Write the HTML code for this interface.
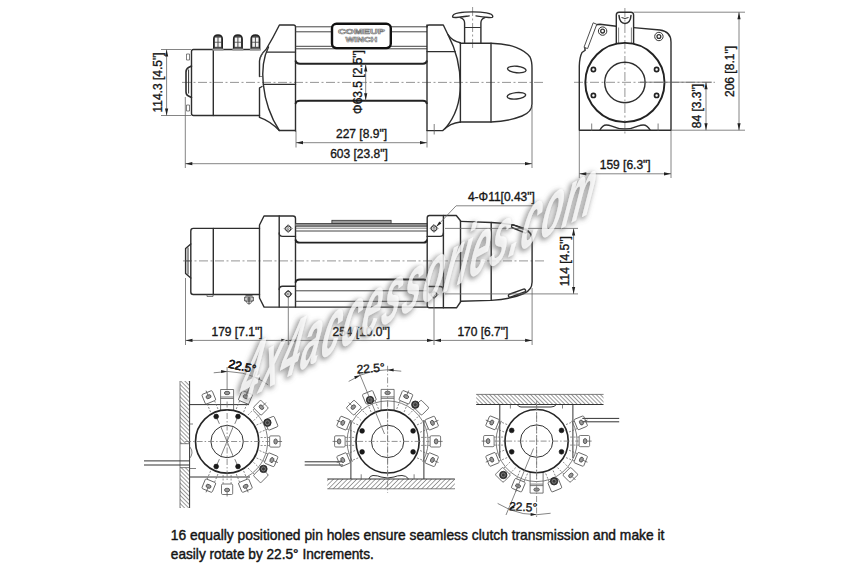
<!DOCTYPE html>
<html><head><meta charset="utf-8"><style>
html,body{margin:0;padding:0;background:#fff;}
svg{display:block;}
.o{fill:none;stroke:#2e2e2e;stroke-width:1.4;stroke-linejoin:round;stroke-linecap:round}
.o1{fill:none;stroke:#333;stroke-width:1;}
.o2{fill:none;stroke:#444;stroke-width:1;}
.o3{fill:none;stroke:#222;stroke-width:1.9;}
.t{fill:none;stroke:#555;stroke-width:0.75;}
.d{fill:none;stroke:#666;stroke-width:0.8;}
.dl{fill:none;stroke:#666;stroke-width:0.7;stroke-dasharray:2 1.5;}
.c{fill:none;stroke:#8a8a8a;stroke-width:0.9;stroke-dasharray:9 2.5 2 2.5;}
.c2{fill:none;stroke:#777;stroke-width:0.8;stroke-dasharray:6 2 1.5 2;}
.pin{fill:#999;stroke:#333;stroke-width:0.7;}
.hb{fill:none;stroke:#555;stroke-width:0.8;}
.blt{fill:#1a1a1a;stroke:#111;stroke-width:0.6;}
.tx{font-family:"Liberation Sans",sans-serif;fill:#161616;stroke:#161616;stroke-width:0.35;}
.logo{font-family:"Liberation Sans",sans-serif;font-weight:bold;fill:#fff;stroke:#777;stroke-width:0.6;}
.bt{font-family:"Liberation Sans",sans-serif;fill:#141414;stroke:#141414;stroke-width:0.45;}
.wmk{font-family:"Liberation Sans",sans-serif;font-weight:bold;font-style:italic;fill:#fff;fill-opacity:0.72;}
</style></head>
<body><svg width="860" height="570" viewBox="0 0 860 570">
<rect width="860" height="570" fill="#fff"/>
<line x1="182" y1="82.4" x2="545" y2="82.4" class="c" />
<line x1="472.6" y1="7" x2="472.6" y2="48" class="c" />
<path d="M193.5,49.5 L259.5,49.5 M191.5,51.5 Q191.5,49.5 193.5,49.5 M191.5,51.5 L191.5,113.5 Q191.5,115.5 193.5,115.5 L259.5,115.5" class="o" />
<line x1="213.3" y1="49.5" x2="213.3" y2="115.5" class="o" />
<path d="M191.5,66 L188.5,67.5 Q186,69 186,72 L186,92 Q186,95 188.5,96 L191.5,97.5" class="o" style="stroke-width:1.6"/>
<path d="M188.6,69.5 L188.6,93.5" class="o1" />
<path d="M186.5,54 h3 v6 h-3 z M186.5,105 h3 v6 h-3 z" class="t" />
<path d="M213.7,49 L213.7,39 Q213.7,35 218,35 Q222.3,35 222.3,39 L222.3,49" class="o" style="fill:#4a4a4a;stroke:#222"/>
<rect x="214.9" y="37.6" width="2.6" height="4.2" fill="#f4f4f4"/>
<rect x="218.5" y="37.6" width="2.6" height="4.2" fill="#f4f4f4"/>
<rect x="214.9" y="42.6" width="2.6" height="4.2" fill="#f4f4f4"/>
<rect x="218.5" y="42.6" width="2.6" height="4.2" fill="#f4f4f4"/>
<rect x="212.5" y="48.6" width="11" height="2" fill="#999"/>
<path d="M233.6,49 L233.6,39 Q233.6,35 237.9,35 Q242.2,35 242.2,39 L242.2,49" class="o" style="fill:#4a4a4a;stroke:#222"/>
<rect x="234.8" y="37.6" width="2.6" height="4.2" fill="#f4f4f4"/>
<rect x="238.4" y="37.6" width="2.6" height="4.2" fill="#f4f4f4"/>
<rect x="234.8" y="42.6" width="2.6" height="4.2" fill="#f4f4f4"/>
<rect x="238.4" y="42.6" width="2.6" height="4.2" fill="#f4f4f4"/>
<rect x="232.4" y="48.6" width="11" height="2" fill="#999"/>
<path d="M251.1,49 L251.1,39 Q251.1,35 255.4,35 Q259.7,35 259.7,39 L259.7,49" class="o" style="fill:#4a4a4a;stroke:#222"/>
<rect x="252.3" y="37.6" width="2.6" height="4.2" fill="#f4f4f4"/>
<rect x="255.9" y="37.6" width="2.6" height="4.2" fill="#f4f4f4"/>
<rect x="252.3" y="42.6" width="2.6" height="4.2" fill="#f4f4f4"/>
<rect x="255.9" y="42.6" width="2.6" height="4.2" fill="#f4f4f4"/>
<rect x="249.9" y="48.6" width="11" height="2" fill="#999"/>
<path d="M259.5,76.5 L259.5,61 Q260,55 266,49.5 Q273,38 279.4,25 L293.5,25 Q295.5,25 295.5,27 L295.5,131" class="o" />
<path d="M259.5,76.5 L262.3,76.5" class="t" />
<line x1="267" y1="52.1" x2="295.5" y2="52.1" class="o" />
<line x1="263.5" y1="84.4" x2="295.5" y2="84.4" class="o" />
<path d="M268.5,47 Q261,62 263.3,84.4 Q266,110 279.3,130.5" class="o" />
<path d="M260,58 Q262,52 268,48.5" class="t" />
<path d="M259.5,88 L262,86.5 M259.5,88 L259.5,117.4 Q270,121 279.3,130.5 L295.5,130.5" class="o" />
<line x1="295.5" y1="26.8" x2="332" y2="26.8" class="o2" />
<line x1="390.8" y1="26.8" x2="427" y2="26.8" class="o2" />
<line x1="295.5" y1="31.8" x2="332" y2="31.8" class="o2" />
<line x1="390.8" y1="31.8" x2="427" y2="31.8" class="o2" />
<line x1="295.5" y1="46.3" x2="427" y2="46.3" class="o2" />
<line x1="295.5" y1="48.8" x2="427" y2="48.8" class="o2" />
<rect x="332" y="23.7" width="58.8" height="24.4" rx="4.5" fill="#fff" stroke="#111" stroke-width="2.4"/>
<text x="361.4" y="34.3" font-size="7.2" text-anchor="middle" class="logo" textLength="47" lengthAdjust="spacingAndGlyphs">COMEUP</text>
<text x="361.4" y="42.3" font-size="7.2" text-anchor="middle" class="logo" textLength="32" lengthAdjust="spacingAndGlyphs">WINCH</text>
<path d="M295.5,60.5 Q296,63.7 300,63.7 L423,63.7 Q426.5,63.7 427,60.5" class="o3" />
<path d="M295.5,104 Q296,100.8 300,100.8 L423,100.8 Q426.5,100.8 427,104" class="o3" />
<path d="M427,27 Q427,25 429,25 L443.3,25 L448,34.7 Q452.5,41.5 460.4,42.8" class="o" />
<line x1="427" y1="25" x2="427" y2="130.6" class="o" />
<line x1="427" y1="51.6" x2="455.2" y2="51.6" class="o" />
<path d="M448,34.7 C455,48 460.3,65 460.3,85 C460.3,103 455,117 445.3,128.4" class="o" />
<path d="M427,130.6 L442.8,130.6 Q450,123 460.4,122" class="o" />
<line x1="434.2" y1="124" x2="434.2" y2="134.5" class="t" />
<line x1="460.4" y1="43.2" x2="460.4" y2="122" class="o" />
<line x1="491" y1="43.2" x2="491" y2="122" class="o" />
<path d="M460.4,43.2 L491,43.2 C512,43.5 525,50 530,57 Q532,61 532,68 L532,104 Q532,112 522,116 Q508,121.5 491,122 L460.4,122" class="o" />
<ellipse cx="516.8" cy="69.5" rx="9.3" ry="3.2" transform="rotate(6 516.8 69.5)" class="o"/>
<ellipse cx="516.4" cy="95.8" rx="9.3" ry="3.2" transform="rotate(-6 516.4 95.8)" class="o"/>
<path d="M452.6,16.8 C452,13 463,11.9 472.6,11.9 C482,11.9 493.4,13 492.8,16.8 C492.5,18.3 486,17.3 476,15.9 M469.2,15.9 C459,17.3 452.9,18.3 452.6,16.8" class="o" />
<path d="M460.3,17.6 C463.5,18.5 464.6,20 464.6,23 L464.6,43 M484.9,17.6 C481.7,18.5 480.9,20 480.9,23 L480.9,43" class="o" />
<line x1="464.6" y1="27.5" x2="480.9" y2="27.5" class="o1" />
<line x1="161" y1="49.5" x2="191" y2="49.5" class="d" />
<line x1="161" y1="115.5" x2="191" y2="115.5" class="d" />
<line x1="166.6" y1="49.5" x2="166.6" y2="115.5" class="d" />
<path d="M166.6,49.5 L168.2,56.5 L165,56.5 Z" fill="#222" stroke="none"/>
<path d="M166.6,115.5 L165,108.5 L168.2,108.5 Z" fill="#222" stroke="none"/>
<text x="162.2" y="82.5" font-size="12" text-anchor="middle" class="tx" transform="rotate(-90 162.2 82.5)" >114.3 [4.5"]</text>
<line x1="296" y1="131" x2="296" y2="147.5" class="d" />
<line x1="427" y1="131" x2="427" y2="147.5" class="d" />
<line x1="296" y1="142.7" x2="427" y2="142.7" class="d" />
<path d="M296,142.7 L303,141.1 L303,144.3 Z" fill="#222" stroke="none"/>
<path d="M427,142.7 L420,144.3 L420,141.1 Z" fill="#222" stroke="none"/>
<text x="361.5" y="138" font-size="12" text-anchor="middle" class="tx" >227 [8.9"]</text>
<line x1="185.3" y1="97" x2="185.3" y2="168" class="d" />
<line x1="532" y1="106" x2="532" y2="168" class="d" />
<line x1="185.3" y1="163.7" x2="532" y2="163.7" class="d" />
<path d="M185.3,163.7 L192.3,162.1 L192.3,165.3 Z" fill="#222" stroke="none"/>
<path d="M532,163.7 L525,165.3 L525,162.1 Z" fill="#222" stroke="none"/>
<text x="359" y="158.4" font-size="12" text-anchor="middle" class="tx" >603 [23.8"]</text>
<line x1="365.7" y1="64.5" x2="365.7" y2="100.3" class="d" />
<path d="M365.7,64.5 L367.3,71.5 L364.1,71.5 Z" fill="#222" stroke="none"/>
<path d="M365.7,100.3 L364.1,93.3 L367.3,93.3 Z" fill="#222" stroke="none"/>
<text x="361.6" y="82" font-size="12" text-anchor="middle" class="tx" transform="rotate(-90 361.6 82)" >Φ63.5 [2.5"]</text>
<line x1="574" y1="82.3" x2="715" y2="82.3" class="c" />
<line x1="624.9" y1="8" x2="624.9" y2="135" class="c" />
<path d="M579.3,130.2 L579.3,66 Q579.6,57 582,52.5 L585.2,50.2 L584.8,48.8 L595.6,25.2 Q597.5,24.2 600,24.2 L616.3,26.2 M633.6,27.6 L660,30 Q671,31.5 671,42 L671,130.2 L579.3,130.2" class="o" />
<path d="M599.8,130.2 Q602.5,125 606.3,125 Q609,125 611,125.8 Q624.8,132 638.6,125.8 Q640.6,125 643.3,125 Q647.3,125 650.2,130.2" class="o" />
<path d="M593.2,22.8 L596.8,24.3 L587.6,48.6 L584,47.3 Z" class="o1" style="stroke:#3a3a3a;stroke-width:0.9;fill:#fff"/>
<path d="M616.3,43.5 L616.3,15 Q616.3,12.2 619,12.2 L631,12.2 Q633.6,12.2 633.6,15 L633.6,43.5" class="o" />
<path d="M619,15.5 Q619.5,23 625,23.5 Q630.5,23 631,15.5" class="o" style="stroke-width:1.5"/>
<path d="M621.5,17.5 Q625,19.5 628.5,17.5" class="o1" />
<line x1="618.6" y1="27.5" x2="618.6" y2="43" class="t" />
<line x1="631.4" y1="27.5" x2="631.4" y2="43" class="t" />
<circle cx="602.6" cy="31.1" r="4.2" class="o1" />
<circle cx="602.6" cy="31.1" r="1.9" class="o1" style="stroke-width:1.3"/>
<circle cx="658.9" cy="36.5" r="4.2" class="o1" />
<circle cx="658.9" cy="36.5" r="1.9" class="o1" style="stroke-width:1.3"/>
<circle cx="624.9" cy="82.5" r="39.6" class="o3" />
<circle cx="624.9" cy="82.5" r="20.2" class="o" />
<circle cx="593.4" cy="69.5" r="2.1" class="o" style="stroke-width:1.7;stroke:#222"/>
<circle cx="656.6" cy="69.5" r="2.1" class="o" style="stroke-width:1.7;stroke:#222"/>
<circle cx="593.4" cy="95.4" r="2.1" class="o" style="stroke-width:1.7;stroke:#222"/>
<circle cx="656.6" cy="95.4" r="2.1" class="o" style="stroke-width:1.7;stroke:#222"/>
<line x1="591.7" y1="123.5" x2="591.7" y2="131" class="t" />
<line x1="658.1" y1="123.5" x2="658.1" y2="131" class="t" />
<line x1="633.6" y1="12.2" x2="745" y2="12.2" class="d" />
<line x1="671" y1="130.2" x2="745" y2="130.2" class="d" />
<line x1="739" y1="12.2" x2="739" y2="130.2" class="d" />
<path d="M739,12.2 L740.6,19.2 L737.4,19.2 Z" fill="#222" stroke="none"/>
<path d="M739,130.2 L737.4,123.2 L740.6,123.2 Z" fill="#222" stroke="none"/>
<text x="733.5" y="71.5" font-size="12" text-anchor="middle" class="tx" transform="rotate(-90 733.5 71.5)" >206 [8.1"]</text>
<line x1="640" y1="82.2" x2="712" y2="82.2" class="d" />
<line x1="706" y1="82.2" x2="706" y2="130.2" class="d" />
<path d="M706,82.2 L707.6,89.2 L704.4,89.2 Z" fill="#222" stroke="none"/>
<path d="M706,130.2 L704.4,123.2 L707.6,123.2 Z" fill="#222" stroke="none"/>
<text x="700.5" y="106" font-size="12" text-anchor="middle" class="tx" transform="rotate(-90 700.5 106)" >84 [3.3"]</text>
<line x1="579.3" y1="131" x2="579.3" y2="178" class="d" />
<line x1="671" y1="131" x2="671" y2="178" class="d" />
<line x1="579.3" y1="173.8" x2="671" y2="173.8" class="d" />
<path d="M579.3,173.8 L586.3,172.2 L586.3,175.4 Z" fill="#222" stroke="none"/>
<path d="M671,173.8 L664,175.4 L664,172.2 Z" fill="#222" stroke="none"/>
<text x="625.2" y="168.5" font-size="12" text-anchor="middle" class="tx" >159 [6.3"]</text>
<line x1="183" y1="260.9" x2="545" y2="260.9" class="c" />
<path d="M259.5,228.4 L193.3,228.4 Q190.8,228.4 190.8,231 L190.8,292 Q190.8,294.5 193.3,294.5 L259.5,294.5" class="o" />
<line x1="213.3" y1="228.4" x2="213.3" y2="294.5" class="o" />
<path d="M190.8,244 L185.6,248.5 L185.6,273.5 L190.8,278" class="o" />
<line x1="188" y1="247.5" x2="188" y2="274.5" class="o1" />
<line x1="185" y1="260.9" x2="190.8" y2="260.9" class="t" />
<path d="M207,294.5 L207,296.5 L213,296.5 L213,294.5" class="t" />
<path d="M245.5,295.2 L252.5,295.2 M244.8,297 L253.2,297 L253.2,301 L244.8,301 Z M249,297 L249,304.5 M246.5,299 L251.5,299" class="o1" />
<path d="M246.3,301 Q246.3,303.8 249,303.8 Q251.7,303.8 251.7,301" class="t" />
<path d="M259.5,225 L264,216 L293,216 Q295.5,216 295.5,218.5 L295.5,307.1 L264.1,307.1 L259.5,298 Z" class="o" />
<line x1="279.2" y1="216" x2="279.2" y2="307.1" class="o" />
<path d="M279.2,233 Q279.2,236.4 282.6,236.4 L295.5,236.4" class="o" />
<path d="M279.2,289.6 Q279.2,286.2 282.6,286.2 L295.5,286.2" class="o" />
<path d="M288.2,224.7 L292.1,228.6 L288.2,232.5 L284.3,228.6 Z" class="o1" style="stroke-width:0.8"/>
<circle cx="288.2" cy="228.6" r="2.6" class="o1" />
<circle cx="288.2" cy="228.6" r="1" class="t" />
<path d="M288.2,290.1 L292.1,294 L288.2,297.9 L284.3,294 Z" class="o1" style="stroke-width:0.8"/>
<circle cx="288.2" cy="294" r="2.6" class="o1" />
<circle cx="288.2" cy="294" r="1" class="t" />
<rect x="295.5" y="223.6" width="131.7" height="2.6" fill="#9a9a9a"/>
<line x1="295.5" y1="223.6" x2="427.2" y2="223.6" class="o2" />
<line x1="295.5" y1="226.2" x2="427.2" y2="226.2" class="o2" />
<line x1="295.5" y1="228.2" x2="427.2" y2="228.2" class="t" />
<line x1="295.5" y1="231" x2="427.2" y2="231" class="o2" />
<rect x="331.9" y="220.3" width="59.2" height="3.2" fill="#9a9a9a" stroke="#333" stroke-width="0.8"/>
<path d="M295.5,239.5 Q296,242.6 300,242.6 L423.5,242.6 Q426.7,242.6 427.2,239.5" class="o3" />
<path d="M295.5,282.6 Q296,279.5 300,279.5 L423.5,279.5 Q426.7,279.5 427.2,282.6" class="o3" />
<line x1="295.5" y1="290.8" x2="427.2" y2="290.8" class="o2" />
<line x1="295.5" y1="301.3" x2="427.2" y2="301.3" class="o2" />
<line x1="295.5" y1="307.1" x2="427.2" y2="307.1" class="o" />
<path d="M429.5,215.5 L456.3,215.5 L460.5,220.8 L460.5,302 L456.5,307.8 L429.5,307.8 Q427.2,307.8 427.2,305.5 L427.2,217.8 Q427.2,215.5 429.5,215.5 Z" class="o" />
<line x1="443.4" y1="215.5" x2="443.4" y2="307.8" class="o" />
<path d="M427.2,236.4 L440,236.4 Q443.4,236.4 443.4,233" class="o" />
<path d="M427.2,286.5 L440,286.5 Q443.4,286.5 443.4,290" class="o" />
<path d="M434,224.5 L437.9,228.4 L434,232.3 L430.1,228.4 Z" class="o1" style="stroke-width:0.8"/>
<circle cx="434" cy="228.4" r="2.6" class="o1" />
<circle cx="434" cy="228.4" r="1" class="t" />
<path d="M434,290.7 L437.9,294.6 L434,298.5 L430.1,294.6 Z" class="o1" style="stroke-width:0.8"/>
<circle cx="434" cy="294.6" r="2.6" class="o1" />
<circle cx="434" cy="294.6" r="1" class="t" />
<path d="M460.5,221.4 L491.2,222.5 C505,223 515,224.5 524,228.5 Q532,232 532.1,240 L532.1,282 Q532,290 524,293.5 C515,297.5 505,299.5 491.2,300.4 L460.5,301.2" class="o" />
<line x1="491.2" y1="222.5" x2="491.2" y2="300.4" class="o" />
<rect x="511" y="227.4" width="16.5" height="3" rx="1.5" class="o" transform="rotate(22 519.3 228.9)"/>
<rect x="508" y="291.6" width="18" height="3" rx="1.5" class="o" transform="rotate(-20 517 293.1)"/>
<text x="467.9" y="200.5" font-size="12" text-anchor="start" class="tx" >4-Φ11[0.43"]</text>
<path d="M532.3,205.8 L456.1,205.8 L437,226" class="d" />
<path d="M436.2,226.8 L439.3,221.48 L441.34,223.4 Z" fill="#222" stroke="none"/>
<line x1="445" y1="228.4" x2="578" y2="228.4" class="d" />
<line x1="445" y1="293.9" x2="578" y2="293.9" class="d" />
<line x1="573.6" y1="228.4" x2="573.6" y2="293.9" class="d" />
<path d="M573.6,228.4 L575.2,235.4 L572,235.4 Z" fill="#222" stroke="none"/>
<path d="M573.6,293.9 L572,286.9 L575.2,286.9 Z" fill="#222" stroke="none"/>
<text x="568.8" y="261.2" font-size="12" text-anchor="middle" class="tx" transform="rotate(-90 568.8 261.2)" >114 [4.5"]</text>
<line x1="185.5" y1="278" x2="185.5" y2="345" class="d" />
<line x1="288.3" y1="298" x2="288.3" y2="345" class="d" />
<line x1="434" y1="298" x2="434" y2="345" class="d" />
<line x1="532.1" y1="288" x2="532.1" y2="345" class="d" />
<line x1="185.5" y1="340.4" x2="288.3" y2="340.4" class="d" />
<path d="M185.5,340.4 L192.5,338.8 L192.5,342 Z" fill="#222" stroke="none"/>
<path d="M288.3,340.4 L281.3,342 L281.3,338.8 Z" fill="#222" stroke="none"/>
<line x1="288.3" y1="340.4" x2="434" y2="340.4" class="d" />
<path d="M288.3,340.4 L295.3,338.8 L295.3,342 Z" fill="#222" stroke="none"/>
<path d="M434,340.4 L427,342 L427,338.8 Z" fill="#222" stroke="none"/>
<line x1="434" y1="340.4" x2="532.1" y2="340.4" class="d" />
<path d="M434,340.4 L441,338.8 L441,342 Z" fill="#222" stroke="none"/>
<path d="M532.1,340.4 L525.1,342 L525.1,338.8 Z" fill="#222" stroke="none"/>
<text x="237" y="335.8" font-size="12" text-anchor="middle" class="tx" >179 [7.1"]</text>
<text x="361.3" y="335.8" font-size="12" text-anchor="middle" class="tx" >254 [10.0"]</text>
<text x="482.9" y="335.8" font-size="12" text-anchor="middle" class="tx" >170 [6.7"]</text>
<defs><pattern id="hA" patternUnits="userSpaceOnUse" width="2.9" height="3.2" patternTransform="rotate(-45)"><line x1="0" y1="0" x2="0" y2="3.2" stroke="#333" stroke-width="1"/></pattern><pattern id="hB" patternUnits="userSpaceOnUse" width="3.3" height="3.3" patternTransform="rotate(45)"><line x1="0" y1="0" x2="0" y2="3.3" stroke="#333" stroke-width="0.9"/></pattern></defs>
<rect x="180" y="381" width="9.6" height="62.7" fill="url(#hA)" stroke="none"/>
<rect x="180" y="467.6" width="9.6" height="40.4" fill="url(#hA)" stroke="none"/>
<line x1="189.6" y1="381" x2="189.6" y2="508" class="o1" />
<line x1="180" y1="381" x2="180" y2="508" class="t" />
<line x1="180" y1="443.7" x2="189.6" y2="443.7" class="t" />
<line x1="180" y1="467.6" x2="189.6" y2="467.6" class="t" />
<path d="M189.6,446.5 Q192.5,450 192,453 Q191.5,456.5 189.6,458.4" class="t" />
<line x1="144" y1="460.9" x2="189.6" y2="460.9" class="o1" />
<line x1="144" y1="465" x2="189.6" y2="465" class="o1" />
<line x1="189.6" y1="404.6" x2="249" y2="404.6" class="o1" />
<line x1="189.6" y1="477" x2="250" y2="477" class="o1" />
<line x1="189.6" y1="424" x2="193" y2="424" class="t" />
<line x1="189.6" y1="468.5" x2="196" y2="468.5" class="t" />
<path d="M253.13,410.48 A40.5,40.5 0 0 1 247.35,476.57" class="t"/>
<g transform="rotate(-22.5 227.1 441.5)"><rect x="221.5" y="388.5" width="11.2" height="10.5" rx="1.2" class="hb"/><line x1="223.1" y1="399" x2="223.1" y2="409.5" class="dl"/><line x1="231.1" y1="399" x2="231.1" y2="409.5" class="dl"/><ellipse cx="227.1" cy="393" rx="2.6" ry="1.8" class="pin"/><line x1="227.1" y1="391.2" x2="227.1" y2="386.5" class="t"/></g>
<g transform="rotate(0 227.1 441.5)"><path d="M220.6,410 L220.6,389.5 L233.6,389.5 L233.6,410" class="hb"/><line x1="220.6" y1="397" x2="233.6" y2="397" class="hb"/><line x1="220.6" y1="398.5" x2="233.6" y2="398.5" class="t"/><ellipse cx="227.1" cy="393" rx="2.8" ry="1.7" class="pin"/></g>
<g transform="rotate(22.5 227.1 441.5)"><rect x="221.5" y="388.5" width="11.2" height="10.5" rx="1.2" class="hb"/><line x1="223.1" y1="399" x2="223.1" y2="409.5" class="dl"/><line x1="231.1" y1="399" x2="231.1" y2="409.5" class="dl"/><ellipse cx="227.1" cy="393" rx="2.6" ry="1.8" class="pin"/><line x1="227.1" y1="391.2" x2="227.1" y2="386.5" class="t"/></g>
<g transform="rotate(45 227.1 441.5)"><rect x="221.5" y="388.5" width="11.2" height="10.5" rx="1.2" class="hb"/><line x1="223.1" y1="399" x2="223.1" y2="409.5" class="dl"/><line x1="231.1" y1="399" x2="231.1" y2="409.5" class="dl"/><ellipse cx="227.1" cy="393" rx="2.6" ry="1.8" class="pin"/><line x1="227.1" y1="391.2" x2="227.1" y2="386.5" class="t"/></g>
<g transform="rotate(67.5 227.1 441.5)"><rect x="221.5" y="388.5" width="11.2" height="10.5" rx="1.2" class="hb"/><line x1="223.1" y1="399" x2="223.1" y2="409.5" class="dl"/><line x1="231.1" y1="399" x2="231.1" y2="409.5" class="dl"/></g>
<g transform="rotate(90 227.1 441.5)"><rect x="221.5" y="388.5" width="11.2" height="10.5" rx="1.2" class="hb"/><line x1="223.1" y1="399" x2="223.1" y2="409.5" class="dl"/><line x1="231.1" y1="399" x2="231.1" y2="409.5" class="dl"/><ellipse cx="227.1" cy="393" rx="2.6" ry="1.8" class="pin"/><line x1="227.1" y1="391.2" x2="227.1" y2="386.5" class="t"/></g>
<g transform="rotate(112.5 227.1 441.5)"><rect x="221.5" y="388.5" width="11.2" height="10.5" rx="1.2" class="hb"/><line x1="223.1" y1="399" x2="223.1" y2="409.5" class="dl"/><line x1="231.1" y1="399" x2="231.1" y2="409.5" class="dl"/><ellipse cx="227.1" cy="393" rx="2.6" ry="1.8" class="pin"/><line x1="227.1" y1="391.2" x2="227.1" y2="386.5" class="t"/></g>
<g transform="rotate(135 227.1 441.5)"><rect x="221.5" y="388.5" width="11.2" height="10.5" rx="1.2" class="hb"/><line x1="223.1" y1="399" x2="223.1" y2="409.5" class="dl"/><line x1="231.1" y1="399" x2="231.1" y2="409.5" class="dl"/></g>
<g transform="rotate(157.5 227.1 441.5)"><rect x="221.5" y="388.5" width="11.2" height="10.5" rx="1.2" class="hb"/><line x1="223.1" y1="399" x2="223.1" y2="409.5" class="dl"/><line x1="231.1" y1="399" x2="231.1" y2="409.5" class="dl"/><ellipse cx="227.1" cy="393" rx="2.6" ry="1.8" class="pin"/><line x1="227.1" y1="391.2" x2="227.1" y2="386.5" class="t"/></g>
<g transform="rotate(180 227.1 441.5)"><rect x="221.5" y="388.5" width="11.2" height="10.5" rx="1.2" class="hb"/><line x1="223.1" y1="399" x2="223.1" y2="409.5" class="dl"/><line x1="231.1" y1="399" x2="231.1" y2="409.5" class="dl"/><ellipse cx="227.1" cy="393" rx="2.6" ry="1.8" class="pin"/><line x1="227.1" y1="391.2" x2="227.1" y2="386.5" class="t"/></g>
<g transform="rotate(-157.5 227.1 441.5)"><rect x="221.5" y="388.5" width="11.2" height="10.5" rx="1.2" class="hb"/><line x1="223.1" y1="399" x2="223.1" y2="409.5" class="dl"/><line x1="231.1" y1="399" x2="231.1" y2="409.5" class="dl"/><ellipse cx="227.1" cy="393" rx="2.6" ry="1.8" class="pin"/><line x1="227.1" y1="391.2" x2="227.1" y2="386.5" class="t"/></g>
<circle cx="267.43" cy="422.69" r="3.7" fill="#3a3a3a" stroke="#222" stroke-width="0.8"/>
<circle cx="267.43" cy="422.69" r="2" fill="none" stroke="#8a8a8a" stroke-width="0.8"/>
<circle cx="263.44" cy="468.88" r="3.7" fill="#3a3a3a" stroke="#222" stroke-width="0.8"/>
<circle cx="263.44" cy="468.88" r="2" fill="none" stroke="#8a8a8a" stroke-width="0.8"/>
<circle cx="227.1" cy="441.5" r="31.6" class="o3" style="stroke-width:1.65;stroke:#262626"/>
<circle cx="227.1" cy="441.5" r="16.2" class="o1" />
<line x1="185.1" y1="441.5" x2="269.1" y2="441.5" class="c2" />
<line x1="227.1" y1="401.5" x2="227.1" y2="481.5" class="c2" />
<circle cx="216.2" cy="416.5" r="2.4" class="blt" />
<line x1="217.16" y1="418.7" x2="219.4" y2="423.83" class="t" />
<circle cx="216.2" cy="466.5" r="2.4" class="blt" />
<line x1="217.16" y1="464.3" x2="219.4" y2="459.17" class="t" />
<circle cx="238" cy="416.5" r="2.4" class="blt" />
<line x1="237.04" y1="418.7" x2="234.8" y2="423.83" class="t" />
<circle cx="238" cy="466.5" r="2.4" class="blt" />
<line x1="237.04" y1="464.3" x2="234.8" y2="459.17" class="t" />
<line x1="220.5" y1="426" x2="233.5" y2="457" class="t" />
<line x1="233.5" y1="426" x2="220.5" y2="457" class="t" />
<line x1="227.1" y1="367" x2="227.1" y2="390" class="d" />
<line x1="246.23" y1="395.31" x2="256.18" y2="371.29" class="d" />
<path d="M213.74,372.79 A70,70 0 0 1 268.24,384.87" class="d"/>
<path d="M227.1,371.5 L221.1,373 L221.1,370 Z" fill="#222" stroke="none"/>
<path d="M253.89,376.83 L260,377.74 L258.86,380.51 Z" fill="#222" stroke="none"/>
<text x="241.5" y="370.5" font-size="12" text-anchor="middle" class="tx" transform="rotate(12 241.5 370.5)" >22.5°</text>
<rect x="327.3" y="479" width="127.5" height="9.8" fill="url(#hB)" stroke="none"/>
<line x1="327.3" y1="479" x2="454.8" y2="479" class="o1" />
<line x1="327.3" y1="488.8" x2="454.8" y2="488.8" class="t" />
<line x1="350.9" y1="420" x2="350.9" y2="479" class="o1" />
<line x1="423.9" y1="420" x2="423.9" y2="479" class="o1" />
<line x1="361.2" y1="474.3" x2="361.2" y2="479" class="t" />
<line x1="414.1" y1="474.3" x2="414.1" y2="479" class="t" />
<path d="M368.8,479 Q370,475.5 373,475.5 Q378,475.5 381,477 Q387.6,479 394,477 Q397,475.5 402,475.5 Q406,475.5 408.7,479" class="o1" />
<line x1="304.7" y1="461.8" x2="343" y2="461.8" class="o1" />
<line x1="304.7" y1="465" x2="343" y2="465" class="o1" />
<path d="M352.53,461.65 A40.5,40.5 0 1 1 422.67,461.65" class="t"/>
<g transform="rotate(-112.5 387.6 441.4)"><rect x="382" y="388.4" width="11.2" height="10.5" rx="1.2" class="hb"/><line x1="383.6" y1="398.9" x2="383.6" y2="409.4" class="dl"/><line x1="391.6" y1="398.9" x2="391.6" y2="409.4" class="dl"/><ellipse cx="387.6" cy="392.9" rx="2.6" ry="1.8" class="pin"/><line x1="387.6" y1="391.1" x2="387.6" y2="386.4" class="t"/></g>
<g transform="rotate(-90 387.6 441.4)"><rect x="382" y="388.4" width="11.2" height="10.5" rx="1.2" class="hb"/><line x1="383.6" y1="398.9" x2="383.6" y2="409.4" class="dl"/><line x1="391.6" y1="398.9" x2="391.6" y2="409.4" class="dl"/><ellipse cx="387.6" cy="392.9" rx="2.6" ry="1.8" class="pin"/><line x1="387.6" y1="391.1" x2="387.6" y2="386.4" class="t"/></g>
<g transform="rotate(-67.5 387.6 441.4)"><rect x="382" y="388.4" width="11.2" height="10.5" rx="1.2" class="hb"/><line x1="383.6" y1="398.9" x2="383.6" y2="409.4" class="dl"/><line x1="391.6" y1="398.9" x2="391.6" y2="409.4" class="dl"/><ellipse cx="387.6" cy="392.9" rx="2.6" ry="1.8" class="pin"/><line x1="387.6" y1="391.1" x2="387.6" y2="386.4" class="t"/></g>
<g transform="rotate(-45 387.6 441.4)"><rect x="382" y="388.4" width="11.2" height="10.5" rx="1.2" class="hb"/><line x1="383.6" y1="398.9" x2="383.6" y2="409.4" class="dl"/><line x1="391.6" y1="398.9" x2="391.6" y2="409.4" class="dl"/><ellipse cx="387.6" cy="392.9" rx="2.6" ry="1.8" class="pin"/><line x1="387.6" y1="391.1" x2="387.6" y2="386.4" class="t"/></g>
<g transform="rotate(-22.5 387.6 441.4)"><rect x="382" y="388.4" width="11.2" height="10.5" rx="1.2" class="hb"/><line x1="383.6" y1="398.9" x2="383.6" y2="409.4" class="dl"/><line x1="391.6" y1="398.9" x2="391.6" y2="409.4" class="dl"/></g>
<g transform="rotate(0 387.6 441.4)"><path d="M381.1,409.9 L381.1,389.4 L394.1,389.4 L394.1,409.9" class="hb"/><line x1="381.1" y1="396.9" x2="394.1" y2="396.9" class="hb"/><line x1="381.1" y1="398.4" x2="394.1" y2="398.4" class="t"/><ellipse cx="387.6" cy="392.9" rx="2.8" ry="1.7" class="pin"/></g>
<g transform="rotate(22.5 387.6 441.4)"><rect x="382" y="388.4" width="11.2" height="10.5" rx="1.2" class="hb"/><line x1="383.6" y1="398.9" x2="383.6" y2="409.4" class="dl"/><line x1="391.6" y1="398.9" x2="391.6" y2="409.4" class="dl"/><ellipse cx="387.6" cy="392.9" rx="2.6" ry="1.8" class="pin"/><line x1="387.6" y1="391.1" x2="387.6" y2="386.4" class="t"/></g>
<g transform="rotate(45 387.6 441.4)"><rect x="382" y="388.4" width="11.2" height="10.5" rx="1.2" class="hb"/><line x1="383.6" y1="398.9" x2="383.6" y2="409.4" class="dl"/><line x1="391.6" y1="398.9" x2="391.6" y2="409.4" class="dl"/></g>
<g transform="rotate(67.5 387.6 441.4)"><rect x="382" y="388.4" width="11.2" height="10.5" rx="1.2" class="hb"/><line x1="383.6" y1="398.9" x2="383.6" y2="409.4" class="dl"/><line x1="391.6" y1="398.9" x2="391.6" y2="409.4" class="dl"/><ellipse cx="387.6" cy="392.9" rx="2.6" ry="1.8" class="pin"/><line x1="387.6" y1="391.1" x2="387.6" y2="386.4" class="t"/></g>
<g transform="rotate(90 387.6 441.4)"><rect x="382" y="388.4" width="11.2" height="10.5" rx="1.2" class="hb"/><line x1="383.6" y1="398.9" x2="383.6" y2="409.4" class="dl"/><line x1="391.6" y1="398.9" x2="391.6" y2="409.4" class="dl"/><ellipse cx="387.6" cy="392.9" rx="2.6" ry="1.8" class="pin"/><line x1="387.6" y1="391.1" x2="387.6" y2="386.4" class="t"/></g>
<g transform="rotate(112.5 387.6 441.4)"><rect x="382" y="388.4" width="11.2" height="10.5" rx="1.2" class="hb"/><line x1="383.6" y1="398.9" x2="383.6" y2="409.4" class="dl"/><line x1="391.6" y1="398.9" x2="391.6" y2="409.4" class="dl"/><ellipse cx="387.6" cy="392.9" rx="2.6" ry="1.8" class="pin"/><line x1="387.6" y1="391.1" x2="387.6" y2="386.4" class="t"/></g>
<circle cx="370.02" cy="399.98" r="3.7" fill="#3a3a3a" stroke="#222" stroke-width="0.8"/>
<circle cx="370.02" cy="399.98" r="2" fill="none" stroke="#8a8a8a" stroke-width="0.8"/>
<circle cx="415.28" cy="404.66" r="3.7" fill="#3a3a3a" stroke="#222" stroke-width="0.8"/>
<circle cx="415.28" cy="404.66" r="2" fill="none" stroke="#8a8a8a" stroke-width="0.8"/>
<circle cx="387.6" cy="441.4" r="31.6" class="o3" style="stroke-width:1.65;stroke:#262626"/>
<circle cx="387.6" cy="441.4" r="16.2" class="o1" />
<line x1="345.6" y1="441.4" x2="429.6" y2="441.4" class="c2" />
<line x1="387.6" y1="401.4" x2="387.6" y2="481.4" class="c2" />
<circle cx="362.1" cy="430.9" r="2.4" class="blt" />
<circle cx="362.1" cy="451.9" r="2.4" class="blt" />
<circle cx="413.1" cy="430.9" r="2.4" class="blt" />
<circle cx="413.1" cy="451.9" r="2.4" class="blt" />
<line x1="387.6" y1="365.8" x2="387.6" y2="493" class="c2" />
<line x1="384.54" y1="434.01" x2="358.52" y2="371.19" class="d" />
<path d="M348.66,381.44 A71.5,71.5 0 0 1 401.24,371.21" class="d"/>
<path d="M387.6,369.9 L393.6,368.4 L393.6,371.4 Z" fill="#222" stroke="none"/>
<path d="M360.24,375.34 L355.27,379.03 L354.12,376.25 Z" fill="#222" stroke="none"/>
<text x="371" y="372.5" font-size="12" text-anchor="middle" class="tx" transform="rotate(-4 371 372.5)" >22.5°</text>
<rect x="476.2" y="394.4" width="127.3" height="10.1" fill="url(#hA)" stroke="none"/>
<line x1="476.2" y1="404.5" x2="603.5" y2="404.5" class="o1" />
<line x1="476.2" y1="394.4" x2="603.5" y2="394.4" class="t" />
<line x1="499.8" y1="404.5" x2="499.8" y2="458" class="o1" />
<line x1="572.9" y1="404.5" x2="572.9" y2="458" class="o1" />
<line x1="510.4" y1="404.5" x2="510.4" y2="408.5" class="t" />
<line x1="562.5" y1="404.5" x2="562.5" y2="408.5" class="t" />
<path d="M517.2,404.5 Q518.5,407 521,407 L551,407 Q554.5,407 556.3,404.5" class="o1" />
<line x1="582.3" y1="418.4" x2="619.2" y2="418.4" class="o1" />
<line x1="582.3" y1="421.8" x2="619.2" y2="421.8" class="o1" />
<path d="M571.67,420.85 A40.5,40.5 0 1 1 501.53,420.85" class="t"/>
<g transform="rotate(67.5 536.6 441.1)"><rect x="531" y="388.1" width="11.2" height="10.5" rx="1.2" class="hb"/><line x1="532.6" y1="398.6" x2="532.6" y2="409.1" class="dl"/><line x1="540.6" y1="398.6" x2="540.6" y2="409.1" class="dl"/><ellipse cx="536.6" cy="392.6" rx="2.6" ry="1.8" class="pin"/><line x1="536.6" y1="390.8" x2="536.6" y2="386.1" class="t"/></g>
<g transform="rotate(90 536.6 441.1)"><rect x="531" y="388.1" width="11.2" height="10.5" rx="1.2" class="hb"/><line x1="532.6" y1="398.6" x2="532.6" y2="409.1" class="dl"/><line x1="540.6" y1="398.6" x2="540.6" y2="409.1" class="dl"/><ellipse cx="536.6" cy="392.6" rx="2.6" ry="1.8" class="pin"/><line x1="536.6" y1="390.8" x2="536.6" y2="386.1" class="t"/></g>
<g transform="rotate(112.5 536.6 441.1)"><rect x="531" y="388.1" width="11.2" height="10.5" rx="1.2" class="hb"/><line x1="532.6" y1="398.6" x2="532.6" y2="409.1" class="dl"/><line x1="540.6" y1="398.6" x2="540.6" y2="409.1" class="dl"/><ellipse cx="536.6" cy="392.6" rx="2.6" ry="1.8" class="pin"/><line x1="536.6" y1="390.8" x2="536.6" y2="386.1" class="t"/></g>
<g transform="rotate(135 536.6 441.1)"><rect x="531" y="388.1" width="11.2" height="10.5" rx="1.2" class="hb"/><line x1="532.6" y1="398.6" x2="532.6" y2="409.1" class="dl"/><line x1="540.6" y1="398.6" x2="540.6" y2="409.1" class="dl"/><ellipse cx="536.6" cy="392.6" rx="2.6" ry="1.8" class="pin"/><line x1="536.6" y1="390.8" x2="536.6" y2="386.1" class="t"/></g>
<g transform="rotate(157.5 536.6 441.1)"><rect x="531" y="388.1" width="11.2" height="10.5" rx="1.2" class="hb"/><line x1="532.6" y1="398.6" x2="532.6" y2="409.1" class="dl"/><line x1="540.6" y1="398.6" x2="540.6" y2="409.1" class="dl"/></g>
<g transform="rotate(180 536.6 441.1)"><path d="M530.1,409.6 L530.1,389.1 L543.1,389.1 L543.1,409.6" class="hb"/><line x1="530.1" y1="396.6" x2="543.1" y2="396.6" class="hb"/><line x1="530.1" y1="398.1" x2="543.1" y2="398.1" class="t"/><ellipse cx="536.6" cy="392.6" rx="2.8" ry="1.7" class="pin"/></g>
<g transform="rotate(202.5 536.6 441.1)"><rect x="531" y="388.1" width="11.2" height="10.5" rx="1.2" class="hb"/><line x1="532.6" y1="398.6" x2="532.6" y2="409.1" class="dl"/><line x1="540.6" y1="398.6" x2="540.6" y2="409.1" class="dl"/><ellipse cx="536.6" cy="392.6" rx="2.6" ry="1.8" class="pin"/><line x1="536.6" y1="390.8" x2="536.6" y2="386.1" class="t"/></g>
<g transform="rotate(225 536.6 441.1)"><rect x="531" y="388.1" width="11.2" height="10.5" rx="1.2" class="hb"/><line x1="532.6" y1="398.6" x2="532.6" y2="409.1" class="dl"/><line x1="540.6" y1="398.6" x2="540.6" y2="409.1" class="dl"/></g>
<g transform="rotate(247.5 536.6 441.1)"><rect x="531" y="388.1" width="11.2" height="10.5" rx="1.2" class="hb"/><line x1="532.6" y1="398.6" x2="532.6" y2="409.1" class="dl"/><line x1="540.6" y1="398.6" x2="540.6" y2="409.1" class="dl"/><ellipse cx="536.6" cy="392.6" rx="2.6" ry="1.8" class="pin"/><line x1="536.6" y1="390.8" x2="536.6" y2="386.1" class="t"/></g>
<g transform="rotate(270 536.6 441.1)"><rect x="531" y="388.1" width="11.2" height="10.5" rx="1.2" class="hb"/><line x1="532.6" y1="398.6" x2="532.6" y2="409.1" class="dl"/><line x1="540.6" y1="398.6" x2="540.6" y2="409.1" class="dl"/><ellipse cx="536.6" cy="392.6" rx="2.6" ry="1.8" class="pin"/><line x1="536.6" y1="390.8" x2="536.6" y2="386.1" class="t"/></g>
<g transform="rotate(292.5 536.6 441.1)"><rect x="531" y="388.1" width="11.2" height="10.5" rx="1.2" class="hb"/><line x1="532.6" y1="398.6" x2="532.6" y2="409.1" class="dl"/><line x1="540.6" y1="398.6" x2="540.6" y2="409.1" class="dl"/><ellipse cx="536.6" cy="392.6" rx="2.6" ry="1.8" class="pin"/><line x1="536.6" y1="390.8" x2="536.6" y2="386.1" class="t"/></g>
<circle cx="554.07" cy="481.27" r="3.7" fill="#3a3a3a" stroke="#222" stroke-width="0.8"/>
<circle cx="554.07" cy="481.27" r="2" fill="none" stroke="#8a8a8a" stroke-width="0.8"/>
<circle cx="503.31" cy="474.98" r="3.7" fill="#3a3a3a" stroke="#222" stroke-width="0.8"/>
<circle cx="503.31" cy="474.98" r="2" fill="none" stroke="#8a8a8a" stroke-width="0.8"/>
<circle cx="536.6" cy="441.1" r="31.6" class="o3" style="stroke-width:1.65;stroke:#262626"/>
<circle cx="536.6" cy="441.1" r="16.2" class="o1" />
<line x1="494.6" y1="441.1" x2="578.6" y2="441.1" class="c2" />
<line x1="536.6" y1="401.1" x2="536.6" y2="481.1" class="c2" />
<circle cx="511.7" cy="430.4" r="2.4" class="blt" />
<circle cx="511.7" cy="451.8" r="2.4" class="blt" />
<circle cx="561.5" cy="430.4" r="2.4" class="blt" />
<circle cx="561.5" cy="451.8" r="2.4" class="blt" />
<line x1="536.6" y1="404" x2="536.6" y2="518.7" class="c2" />
<line x1="533.54" y1="448.49" x2="505.99" y2="515.01" class="d" />
<path d="M497.65,503.43 A73.5,73.5 0 0 0 550.62,513.25" class="d"/>
<path d="M536.6,514.6 L530.6,516.1 L530.6,513.1 Z" fill="#222" stroke="none"/>
<path d="M508.47,509.01 L513.44,505.32 L514.59,508.09 Z" fill="#222" stroke="none"/>
<text x="523" y="511" font-size="12" text-anchor="middle" class="tx" transform="rotate(3 523 511)" >22.5°</text>
<text x="170.8" y="539.7" font-size="15" class="bt" textLength="493.6" lengthAdjust="spacingAndGlyphs">16 equally positioned pin holes ensure seamless clutch transmission and make it</text>
<text x="170.8" y="558.7" font-size="15" class="bt" textLength="203" lengthAdjust="spacingAndGlyphs">easily rotate by 22.5° Increments.</text>
<defs><filter id="wm" x="-20%" y="-50%" width="140%" height="200%"><feMorphology in="SourceAlpha" operator="dilate" radius="0.8" result="d"/><feGaussianBlur in="d" stdDeviation="2.6" result="b"/><feOffset in="b" dx="-1.8" dy="1.6" result="o"/><feFlood flood-color="#666" flood-opacity="0.85"/><feComposite in2="o" operator="in" result="s"/><feGaussianBlur in="SourceGraphic" stdDeviation="0.7" result="g"/><feMerge><feMergeNode in="s"/><feMergeNode in="g"/></feMerge></filter></defs>
<g filter="url(#wm)"><text x="0" y="0" font-size="74" class="wmk" letter-spacing="3.5" transform="translate(238 404) skewY(-28.5) skewX(-12) scale(0.452 1)">4x4accessories.com</text></g>
<text x="241.5" y="370.5" font-size="12" text-anchor="middle" class="tx" transform="rotate(12 241.5 370.5)" >22.5°</text>
</svg></body></html>
